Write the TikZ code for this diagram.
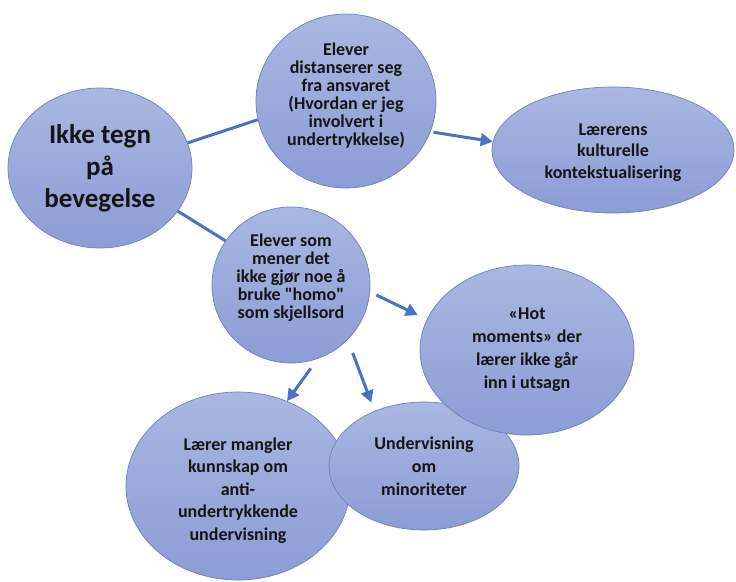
\documentclass[tikz,border=0pt]{standalone}
\usepackage{fontspec}
\setmainfont{Carlito}[Ligatures=TeXOff]
\usetikzlibrary{shapes.geometric,arrows.meta}

\definecolor{bubbletop}{HTML}{AAB7E2}
\definecolor{bubblebottom}{HTML}{8C9CD5}
\definecolor{bubbleedge}{HTML}{6F80BA}
\definecolor{linkblue}{HTML}{4A72C2}
\definecolor{ink}{HTML}{151515}

\begin{document}
\begin{tikzpicture}[x=1pt,y=-1pt,
  bubble/.style={ellipse, draw=bubbleedge, line width=0.7pt,
    top color=bubbletop, bottom color=bubblebottom,
    inner sep=-20pt, align=center, text=ink,
    font=\bfseries\fontsize{18}{18}\selectfont},
  link/.style={draw=linkblue, line width=3pt},
  arrowlink/.style={link, -{Triangle[length=12pt,width=12.5pt]}}]

\useasboundingbox (0,0) rectangle (736,581);

% concept bubbles
\node[bubble, minimum width=184pt, minimum height=160pt,
      font=\bfseries\fontsize{27}{32}\selectfont] (ikke) at (100,168)
  {Ikke tegn\\på\\bevegelse};
\node[bubble, minimum width=180pt, minimum height=174pt] (dist) at (346,101)
  {Elever\\distanserer seg\\fra ansvaret\\(Hvordan er jeg\\involvert i\\undertrykkelse)\rule[-14pt]{0pt}{0pt}};
\node[bubble, minimum width=242pt, minimum height=126pt,
      font=\bfseries\fontsize{18}{21.7}\selectfont] (ler) at (613,150)
  {\rule{0pt}{17pt}Lærerens\\kulturelle\\kontekstualisering};
\node[bubble, minimum width=158pt, minimum height=156pt] (es) at (291,285)
  {Elever som\\mener det\\ikke gjør noe å\\bruke "homo"\\som skjellsord\rule[-18pt]{0pt}{0pt}};
\node[bubble, minimum width=224pt, minimum height=188pt,
      font=\bfseries\fontsize{18}{22.5}\selectfont] (lm) at (238,486)
  {\rule{0pt}{22pt}Lærer mangler\\kunnskap om\\anti-\\undertrykkende\\undervisning};
\node[bubble, minimum width=190pt, minimum height=128pt,
      font=\bfseries\fontsize{18}{23}\selectfont] (und) at (424,466)
  {Undervisning\\om\\minoriteter};
\node[bubble, minimum width=214pt, minimum height=170pt,
      font=\bfseries\fontsize{18}{23}\selectfont] (hot) at (527,350)
  {«Hot\\moments» der\\lærer ikke går\\inn i utsagn};

% plain links from the main bubble
\draw[link] (ikke.16) -- (dist.192);
\draw[link] (ikke.-29) -- (es.146);

% arrows
\draw[arrowlink, shorten <=3pt] (dist.-20) -- (ler.176);
\draw[arrowlink, shorten <=7pt, shorten >=10pt] (es.-5) -- (hot.163);
\draw[arrowlink, shorten <=12pt] (es.-70) -- (lm.60);
\draw[arrowlink, shorten <=14pt, shorten >=9pt] (es.-44) -- (und.132);
\end{tikzpicture}
\end{document}
